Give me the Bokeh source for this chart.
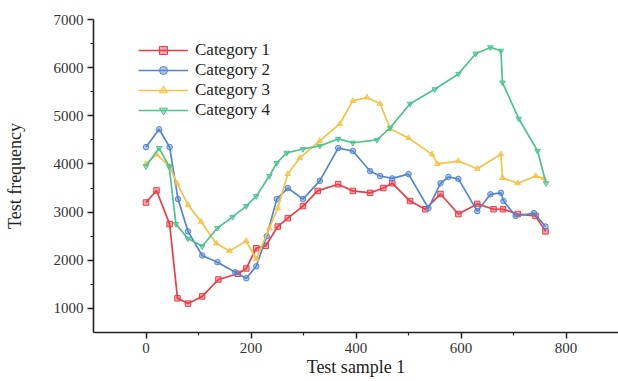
from bokeh.plotting import figure
from bokeh.models import Range1d, Legend, LegendItem, FixedTicker
from bokeh.embed import file_html
from bokeh.resources import INLINE

# ---- data ----
cat1_x = [0, 20, 45, 60, 80, 107, 138, 175, 191, 210, 228, 251, 270, 299, 327, 366, 394, 427, 452, 469, 503, 532, 561, 595, 631, 662, 680, 708, 742, 761]
cat1_y = [3200, 3450, 2750, 1210, 1100, 1250, 1600, 1720, 1830, 2250, 2300, 2700, 2875, 3125, 3440, 3580, 3440, 3400, 3500, 3600, 3230, 3060, 3375, 2960, 3170, 3060, 3060, 2960, 2920, 2600]

cat2_x = [0, 25, 45, 61, 80, 107, 136, 170, 191, 210, 230, 249, 270, 299, 331, 366, 394, 427, 446, 469, 500, 538, 561, 576, 595, 631, 656, 676, 681, 704, 739, 761]
cat2_y = [4350, 4720, 4350, 3270, 2600, 2100, 1960, 1750, 1625, 1875, 2500, 3270, 3500, 3270, 3650, 4330, 4270, 3850, 3750, 3700, 3790, 3080, 3600, 3730, 3690, 3020, 3370, 3400, 3230, 2920, 2980, 2700]

cat3_x = [0, 20, 45, 59, 80, 105, 134, 159, 191, 210, 235, 251, 270, 293, 331, 369, 394, 421, 446, 465, 500, 545, 555, 595, 631, 676, 679, 708, 742, 758]
cat3_y = [4000, 4200, 3950, 3600, 3150, 2800, 2350, 2190, 2400, 2020, 2670, 3080, 3790, 4125, 4480, 4830, 5310, 5380, 5250, 4730, 4540, 4200, 4000, 4060, 3900, 4200, 3710, 3600, 3750, 3700]

cat4_x = [0, 25, 44, 57, 80, 107, 136, 165, 191, 210, 235, 249, 268, 299, 331, 366, 394, 440, 465, 503, 550, 595, 628, 656, 676, 679, 710, 746, 762]
cat4_y = [3950, 4330, 3950, 2750, 2450, 2290, 2670, 2900, 3125, 3330, 3750, 4020, 4230, 4310, 4375, 4520, 4440, 4500, 4750, 5250, 5550, 5870, 6290, 6420, 6350, 5690, 4940, 4270, 3600]

labels = ["Category 1", "Category 2", "Category 3", "Category 4"]
x_ticks = [0, 200, 400, 600, 800]
x_minor = [100, 300, 500, 700]
y_ticks = [1000, 2000, 3000, 4000, 5000, 6000, 7000]
y_minor = [1500, 2500, 3500, 4500, 5500, 6500]

colors = ["#ec3c46", "#5285d2", "#f6c244", "#4cc48e"]
markers = ["square", "circle", "triangle", "inverted_triangle"]

FONT = "Liberation Serif"

p = figure(width=618, height=381, x_range=Range1d(-100, 900), y_range=Range1d(500, 7000),
           output_backend="svg", toolbar_location=None,
           min_border_left=93, min_border_top=19, min_border_bottom=49, min_border_right=0)
p.outline_line_color = None
p.xgrid.visible = False
p.ygrid.visible = False

series = [(cat1_x, cat1_y), (cat2_x, cat2_y), (cat3_x, cat3_y), (cat4_x, cat4_y)]
items = []
for (xs, ys), c, m, lab in zip(series, colors, markers, labels):
    l = p.line(xs, ys, line_color=c, line_width=1.7)
    s = p.scatter(xs, ys, marker=m, size=5.5, line_color=c, fill_color=c, fill_alpha=0.45, line_width=1)
    items.append(LegendItem(label=lab, renderers=[l, s]))

legend = Legend(items=items, location=(45, 212), padding=0, margin=0, spacing=0,
                label_height=20, glyph_height=20, glyph_width=50, label_standoff=7,
                border_line_color=None, background_fill_alpha=0,
                label_text_font=FONT, label_text_font_size="17px", label_text_color="#222222")
p.add_layout(legend, "center")

for ax in (p.xaxis[0], p.yaxis[0]):
    ax.axis_line_width = 1.6
    ax.axis_line_color = "#222222"
    ax.major_tick_line_color = "#222222"
    ax.minor_tick_line_color = "#222222"
    ax.major_tick_line_width = 1.5
    ax.minor_tick_line_width = 1.2
    ax.major_tick_out = 6
    ax.major_tick_in = 0
    ax.minor_tick_out = 3
    ax.minor_tick_in = 0
    ax.major_label_text_font = FONT
    ax.major_label_text_font_size = "15px"
    ax.major_label_text_color = "#333333"
    ax.axis_label_text_font = FONT
    ax.axis_label_text_font_size = "18px"
    ax.axis_label_text_font_style = "normal"
    ax.axis_label_text_color = "#222222"
    ax.major_label_standoff = 4

p.xaxis.ticker = FixedTicker(ticks=x_ticks, minor_ticks=x_minor)
p.yaxis.ticker = FixedTicker(ticks=y_ticks, minor_ticks=y_minor)
p.xaxis.axis_label = "Test sample 1"
p.yaxis.axis_label = "Test frequency"
p.xaxis.axis_label_standoff = 1
p.yaxis.axis_label_standoff = 26

open("out.html", "w").write(file_html(p, INLINE))
